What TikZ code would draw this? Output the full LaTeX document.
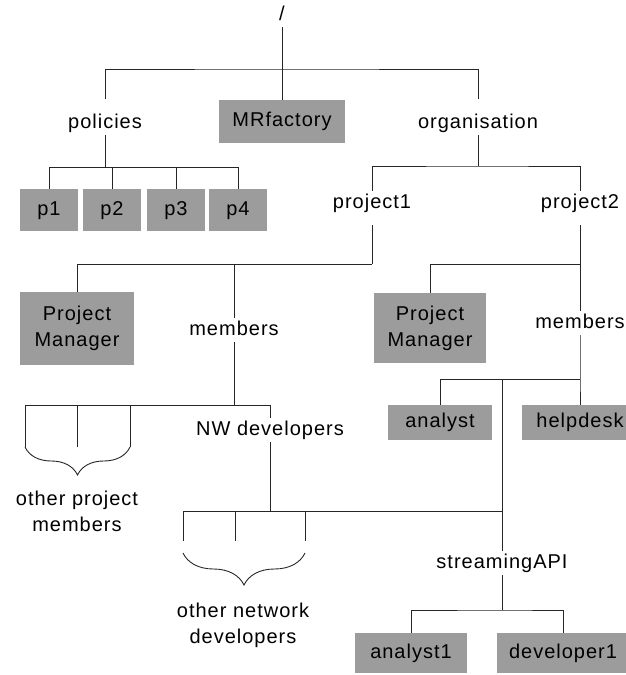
\documentclass[tikz,border=0pt]{standalone}
\usepackage{fontspec}
\newfontfamily\treefont[LetterSpace=5]{Liberation Sans}
\newcommand\treetxt{\treefont\fontsize{20}{26}\selectfont}
\usetikzlibrary{decorations.pathreplacing}
\definecolor{leafgray}{HTML}{9C9C9C}

\begin{document}
\begin{tikzpicture}[
    x=1pt, y=-1pt,
    conn/.style={black!85, line width=0.9pt},
    txt/.style={font=\treetxt, align=center},
    dir/.style={txt, inner sep=3pt, text height=14.5pt, text depth=4pt},
    note/.style={txt, inner sep=2pt},
    leaf/.style={txt, fill=leafgray, inner sep=0pt, text height=14.5pt, text depth=4pt},
    leafm/.style={txt, fill=leafgray, inner sep=0pt},
    grp/.style={conn, decorate, decoration={brace, mirror, amplitude=#1}}
]

% Frame
\useasboundingbox (0,0) rectangle (626,675);
\clip (0,0) rectangle (626,675);

% ============================================================
% Root and first level
% ============================================================

\node[dir] (root) at (282,15) {/};
\coordinate (jroot) at (282,69);
\node[leaf, minimum width=126pt, minimum height=43pt] (mrf) at (282,121.5) {MRfactory};
\node[dir] (pol) at (105,123) {policies};
\node[dir] (org) at (478,123) {organisation};

\draw[conn] (root) -- (mrf);
\draw[conn, shorten <=12pt, shorten >=12pt] (pol) |- (jroot) -| (org);

% Policies
\coordinate (jpol) at (105,167);
\draw[conn] (pol) -- (jpol);
\foreach \i/\x in {1/49,2/112,3/176,4/238} {
    \node[leaf, minimum width=58pt, minimum height=42pt] (p\i) at (\x,210) {p\i};
    \draw[conn] (p\i) |- (jpol);
}

% Organisation
\coordinate (jorg) at (478,166);
\node[dir] (proj1) at (372,203) {project1};
\node[dir] (proj2) at (580,203) {project2};
\draw[conn] (org) -- (jorg);
\draw[conn] (proj1) |- (jorg) -| (proj2);

% ============================================================
% project1
% ============================================================

\coordinate (jp1) at (372,264);
\node[leafm, minimum width=114pt, minimum height=73pt] (pm1) at (77,328.5) {Project\\Manager};
\node[dir] (mem1) at (234,330) {members};
\draw[conn, shorten <=10pt] (proj1) -- (jp1);
\draw[conn] (pm1) |- (jp1);
\draw[conn] (mem1) |- (jp1);

% members
\coordinate (jmem1) at (234,405);
\node[dir] (nw) at (270,430) {NW developers};
\draw[conn] (mem1) -- (jmem1);
\draw[conn] (nw) |- (jmem1);
\foreach \i/\x in {1/25,2/77,3/130} {
    \coordinate (opm\i) at (\x,447);
    \draw[conn] (opm\i) |- (jmem1);
}
\draw[grp=28pt] (opm1) -- (opm3);
\node[note] (opmtxt) at (77,511) {other project\\members};

% NW developers
\coordinate (jnw) at (270,511);
\node[dir] (stream) at (502,563) {streamingAPI};
\draw[conn] (nw) -- (jnw) -- (jnw -| stream);
\foreach \i/\x in {1/183,2/235,3/305} {
    \coordinate (ond\i) at (\x,541);
    \draw[conn] (ond\i) |- (jnw);
}
\coordinate (ondL) at (183,553);
\coordinate (ondR) at (305,553);
\draw[grp=32pt] (ondL) -- (ondR);
\node[note] (ondtxt) at (243,625) {other network\\developers};

% ============================================================
% project2
% ============================================================

\coordinate (jp2) at (580,264);
\node[leafm, minimum width=112pt, minimum height=70pt] (pm2) at (430,328) {Project\\Manager};
\node[dir] (mem2) at (580,323) {members};
\draw[conn, shorten <=10pt] (proj2) -- (jp2);
\draw[conn] (pm2) |- (jp2);
\draw[conn] (mem2) -- (jp2);

% members
\coordinate (jmem2) at (580,379);
\node[leaf, minimum width=104pt, minimum height=35pt] (ana) at (440,422.5) {analyst};
\node[leaf, minimum width=116pt, minimum height=35pt] (help) at (580,422.5) {helpdesk};
\draw[conn] (mem2) -- (jmem2) -- (help);
\draw[conn] (ana) |- (jmem2);
\draw[conn] (stream) |- (jmem2);

% streamingAPI
\coordinate (jstr) at (502,610);
\node[leaf, minimum width=112pt, minimum height=40pt] (an1) at (411,653) {analyst1};
\node[leaf, minimum width=132pt, minimum height=40pt] (dev1) at (563,653) {developer1};
\draw[conn] (stream) -- (jstr);
\draw[conn] (an1) |- (jstr) -| (dev1);
\end{tikzpicture}
\end{document}
